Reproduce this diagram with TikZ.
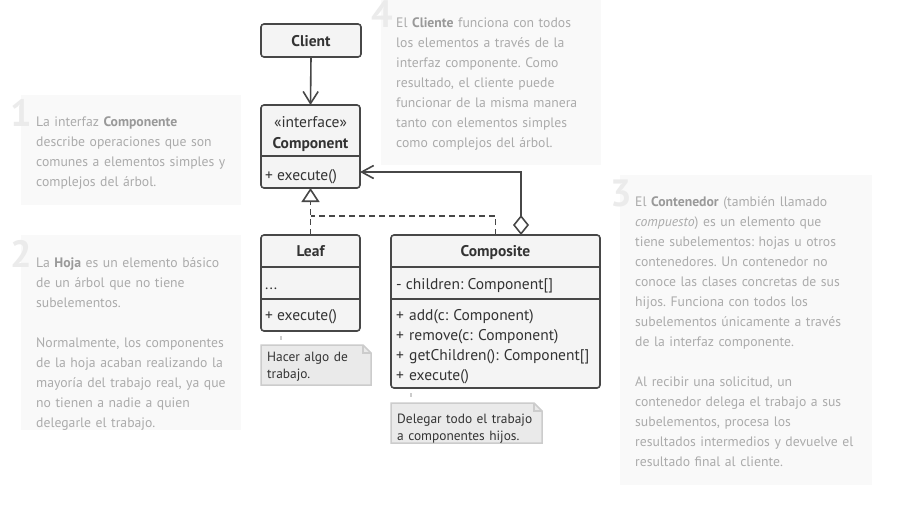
\documentclass[tikz,border=0pt]{standalone}
\usepackage{fontspec}
\setmainfont{PT Sans}
\usetikzlibrary{arrows.meta}
\definecolor{umlline}{HTML}{474747}
\definecolor{umlfill}{HTML}{F4F4F4}
\definecolor{umltext}{HTML}{333333}
\definecolor{notefill}{HTML}{EAEAEA}
\definecolor{noteline}{HTML}{CCCCCC}
\definecolor{annfill}{HTML}{F9F9F9}
\definecolor{anntext}{HTML}{ABABAB}
\definecolor{annbold}{HTML}{999999}
\definecolor{annnum}{HTML}{EBEBEB}
\newcommand\annb[1]{\textbf{\color{annbold}#1}}
\frenchspacing
\begin{document}
\begin{tikzpicture}[x=1pt,y=-1pt,
  classbox/.style={draw=umlline, fill=umlfill, line width=1.6pt, rounded corners=3pt, anchor=north west, inner sep=0pt, outer sep=0pt},
  divider/.style={draw=umlline, line width=1.6pt},
  umltxt/.style={text=umltext, inner sep=0pt, font=\fontsize{15.5}{20}\selectfont\frenchspacing},
  annbox/.style={fill=annfill, draw=none, anchor=north west, inner sep=0pt, outer sep=0pt},
  anntxt/.style={text=anntext, inner sep=0pt, anchor=base west, text width=250pt, align=left, font=\fontsize{13.7}{20}\selectfont\frenchspacing},
  annnumber/.style={text=annnum, inner sep=0pt, anchor=base east, font=\fontsize{38}{38}\selectfont\bfseries},
  notebox/.style={anchor=north west, inner sep=0pt, outer sep=0pt, draw=none},
  noteshape/.style={draw=noteline, fill=notefill, line width=1.5pt},
  notetxt/.style={text=umltext, inner sep=0pt, anchor=base west, text width=150pt, align=left, font=\fontsize{13.4}{17}\selectfont\frenchspacing},
  link/.style={draw=umlline, line width=1.6pt},
  dashlink/.style={link, dash pattern=on 6pt off 4pt},
  dotlink/.style={draw=noteline, line width=1.5pt, dash pattern=on 0pt off 5pt on 4pt off 3pt}
]
\useasboundingbox[fill=white] (0,0) rectangle (922,512);

% annotation boxes
\node[annbox, minimum width=220pt, minimum height=110pt] (ann1) at (21,95) {};
\node[annnumber] (ann1num) at (32,126) {1};
\node[anntxt] (ann1text) at (36,126) {La interfaz \annb{Componente}\\describe operaciones que son\\comunes a elementos simples y\\complejos del árbol.};

\node[annbox, minimum width=220pt, minimum height=195pt] (ann2) at (21,235) {};
\node[annnumber] (ann2num) at (32,267) {2};
\node[anntxt] (ann2text) at (36,267) {La \annb{Hoja} es un elemento básico\\de un árbol que no tiene\\subelementos.\\[20pt]Normalmente, los componentes\\de la hoja acaban realizando la\\mayoría del trabajo real, ya que\\no tienen a nadie a quien\\delegarle el trabajo.};

\node[annbox, minimum width=252pt, minimum height=310pt] (ann3) at (620,175) {};
\node[annnumber] (ann3num) at (632,206) {3};
\node[anntxt] (ann3text) at (635,206) {El \annb{Contenedor} (también llamado\\\textit{compuesto}) es un elemento que\\tiene subelementos: hojas u otros\\contenedores. Un contenedor no\\conoce las clases concretas de sus\\hijos. Funciona con todos los\\subelementos únicamente a través\\de la interfaz componente.\\[20pt]Al recibir una solicitud, un\\contenedor delega el trabajo a sus\\subelementos, procesa los\\resultados intermedios y devuelve el\\resultado final al cliente.};

\node[annbox, minimum width=220pt, minimum height=170pt] (ann4) at (381,-5) {};
\node[annnumber] (ann4num) at (393,27) {4};
\node[anntxt] (ann4text) at (396,27) {El \annb{Cliente} funciona con todos\\los elementos a través de la\\interfaz componente. Como\\resultado, el cliente puede\\funcionar de la misma manera\\tanto con elementos simples\\como complejos del árbol.};

% classes
\node[classbox, minimum width=100pt, minimum height=33pt] (client) at (261,24) {};
\node[classbox, minimum width=99pt, minimum height=83pt] (comp) at (261,105) {};
\node[classbox, minimum width=99pt, minimum height=96pt] (leaf) at (261,235) {};
\node[classbox, minimum width=209pt, minimum height=153pt] (composite) at (391,235) {};

\draw[divider] (comp.west |- 0,156) -- (comp.east |- 0,156);
\draw[divider] (leaf.west |- 0,267) -- (leaf.east |- 0,267);
\draw[divider] (leaf.west |- 0,299) -- (leaf.east |- 0,299);
\draw[divider] (composite.west |- 0,267) -- (composite.east |- 0,267);
\draw[divider] (composite.west |- 0,299) -- (composite.east |- 0,299);

\node[umltxt, anchor=base] (clientname) at (311,46) {\bfseries Client};
\node[umltxt, anchor=base] (compstereo) at (310.5,127) {«interface»};
\node[umltxt, anchor=base] (compname) at (310.5,148) {\bfseries Component};
\node[umltxt, anchor=base west] (compops) at (265,180) {+ execute()};
\node[umltxt, anchor=base] (leafname) at (310.5,256) {\bfseries Leaf};
\node[umltxt, anchor=base west] (leaffields) at (265,289) {...};
\node[umltxt, anchor=base west] (leafops) at (265,320) {+ execute()};
\node[umltxt, anchor=base] (compositename) at (495.5,256) {\bfseries Composite};
\node[umltxt, anchor=base west] (compositefields) at (396,289) {- children: Component[]};
\node[umltxt, anchor=base west, align=left, text width=200pt] (compositeops) at (396,320) {+ add(c: Component)\\+ remove(c: Component)\\+ getChildren(): Component[]\\+ execute()};

% connectors
\draw[link, -{Straight Barb[length=12pt,width=15pt]}] (client.south) -- (comp.north);
\draw[dashlink, -{Triangle[length=14pt,width=18pt,fill=white]}] (leaf.north) -- (comp.south);
\draw[dashlink] (composite.north) |- (leaf.north |- 0,216);
\draw[link, {Diamond[open,length=20pt,width=16pt]}-{Straight Barb[length=12pt,width=13pt]}] ([xshift=130pt]composite.north west) |- (comp.east |- 0,172);

% notes
\node[notebox, minimum width=110pt, minimum height=40pt] (leafnote) at (261,345) {};
\path[noteshape] (leafnote.south west) -- (leafnote.north west) -- ([xshift=-8pt]leafnote.north east) -- ([yshift=-8pt]leafnote.north east) -- (leafnote.south east) -- cycle;
\draw[draw=noteline, line width=1.2pt] ([xshift=-8pt]leafnote.north east) -- ([xshift=-8pt,yshift=-8pt]leafnote.north east) -- ([yshift=-8pt]leafnote.north east);
\node[notetxt] (leafnotetext) at (267,361) {Hacer algo de\\trabajo.};
\draw[dotlink] ([xshift=20pt]leaf.south west) -- ([xshift=20pt]leafnote.north west);

\node[notebox, minimum width=151pt, minimum height=40pt] (compositenote) at (391,403) {};
\path[noteshape] (compositenote.south west) -- (compositenote.north west) -- ([xshift=-8pt]compositenote.north east) -- ([yshift=-8pt]compositenote.north east) -- (compositenote.south east) -- cycle;
\draw[draw=noteline, line width=1.2pt] ([xshift=-8pt]compositenote.north east) -- ([xshift=-8pt,yshift=-8pt]compositenote.north east) -- ([yshift=-8pt]compositenote.north east);
\node[notetxt] (compositenotetext) at (397,423) {Delegar todo el trabajo\\a componentes hijos.};
\draw[dotlink] ([xshift=20pt]composite.south west) -- ([xshift=20pt]compositenote.north west);
\end{tikzpicture}
\end{document}
